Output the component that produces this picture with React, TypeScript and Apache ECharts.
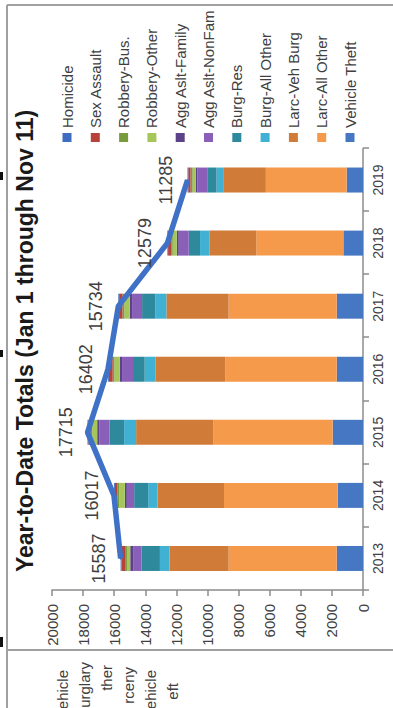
import React, { useEffect, useRef } from "react";
import * as echarts from "echarts";

const years = ["2013", "2014", "2015", "2016", "2017", "2018", "2019"];
const totals = [15587, 16017, 17715, 16402, 15734, 12579, 11285];

const homicide = [57, 59, 61, 55, 51, 45, 48];
const sexAssault = [230, 170, 130, 250, 214, 214, 150];
const robberyBus = [120, 107, 110, 110, 128, 86, 128];
const robberyOther = [210, 364, 320, 342, 342, 257, 214];
const aggAsltFamily = [190, 130, 150, 150, 150, 128, 86];
const aggAsltNonFam = [530, 470, 640, 706, 642, 642, 642];
const burgRes = [1190, 900, 943, 750, 856, 728, 600];
const burgAllOther = [620, 600, 771, 685, 706, 620, 471];
const larcVehBurg = [3800, 4280, 4970, 4494, 4000, 2996, 2697];
const larcAllOther = [6950, 7310, 7670, 7170, 6955, 5600, 5200];
const vehicleTheft = [1690, 1627, 1950, 1690, 1690, 1263, 1049];

const legendNames = [
  "Homicide",
  "Sex Assault",
  "Robbery-Bus.",
  "Robbery-Other",
  "Agg Aslt-Family",
  "Agg Aslt-NonFam",
  "Burg-Res",
  "Burg-All Other",
  "Larc-Veh Burg",
  "Larc-All Other",
  "Vehicle Theft",
];

const fragmentTexts = ["ehicle", "urglary", "ther", "rceny", "ehicle", "eft"];

const W = 708;
const H = 393;

export default function App() {
  const ref = useRef<HTMLDivElement>(null);

  useEffect(() => {
    if (!ref.current) return;
    const chart = echarts.init(ref.current, undefined, { renderer: "svg" });

    const stack = [
      { name: "Vehicle Theft", data: vehicleTheft, color: "#4677c2" },
      { name: "Larc-All Other", data: larcAllOther, color: "#f5994b" },
      { name: "Larc-Veh Burg", data: larcVehBurg, color: "#d07b38" },
      { name: "Burg-All Other", data: burgAllOther, color: "#40b1d3" },
      { name: "Burg-Res", data: burgRes, color: "#2f899c" },
      { name: "Agg Aslt-NonFam", data: aggAsltNonFam, color: "#8a5fb8" },
      { name: "Agg Aslt-Family", data: aggAsltFamily, color: "#5c4389" },
      { name: "Robbery-Other", data: robberyOther, color: "#a5c75a" },
      { name: "Robbery-Bus.", data: robberyBus, color: "#7a9a3e" },
      { name: "Sex Assault", data: sexAssault, color: "#b8413a" },
      { name: "Homicide", data: homicide, color: "#3d6cc0" },
    ];

    const axisColor = "#8c8c8c";
    const textColor = "#404040";
    const font = "Liberation Sans, Arial, sans-serif";

    const barSeries = stack.map((s) => ({
      type: "bar",
      name: s.name,
      stack: "total",
      data: s.data,
      barWidth: 25,
      itemStyle: { color: s.color },
    }));

    const graphics: any[] = [
      { type: "line", shape: { x1: 703, y1: 7, x2: 703, y2: H }, style: { stroke: "#a0a0a0", lineWidth: 2 } },
      { type: "line", shape: { x1: 58, y1: 7, x2: 58, y2: H }, style: { stroke: "#a0a0a0", lineWidth: 2 } },
      { type: "line", shape: { x1: 0, y1: 7, x2: 703, y2: 7 }, style: { stroke: "#a0a0a0", lineWidth: 2 } },
      { type: "rect", shape: { x: 528, y: 0, width: 8, height: 3 }, style: { fill: "#111" } },
      { type: "rect", shape: { x: 351, y: 0, width: 7, height: 3 }, style: { fill: "#111" } },
      { type: "rect", shape: { x: 61, y: 0, width: 10, height: 3 }, style: { fill: "#111" } },
      {
        type: "text",
        x: 367,
        y: 13,
        style: {
          text: "Year-to-Date Totals (Jan 1 through Nov 11)",
          fontSize: 23,
          fontWeight: "bold",
          fontFamily: font,
          fill: "#1a1a1a",
          textAlign: "center",
          textVerticalAlign: "top",
        },
      },
    ];
    const fragRight = [38, 46, 43, 41, 38, 25];
    fragmentTexts.forEach((t, i) => {
      graphics.push({
        type: "text",
        x: fragRight[i],
        y: 62 + i * 22,
        style: {
          text: t,
          fontSize: 15,
          fontFamily: font,
          fill: textColor,
          textAlign: "right",
          textVerticalAlign: "middle",
        },
      });
    });

    chart.setOption({
      animation: false,
      backgroundColor: "#ffffff",
      textStyle: { fontFamily: font },
      grid: { left: 118, right: 148.5, top: 52, bottom: 30, containLabel: false },
      legend: {
        data: legendNames,
        orient: "vertical",
        left: 561,
        top: 54,
        icon: "rect",
        itemWidth: 9,
        itemHeight: 9,
        itemGap: 12.3,
        textStyle: { fontSize: 15, color: textColor, lineHeight: 16, fontFamily: font },
      },
      xAxis: {
        type: "category",
        data: years,
        boundaryGap: true,
        axisLine: { lineStyle: { color: axisColor, width: 1.5 } },
        axisTick: { show: true, length: 6, lineStyle: { color: axisColor, width: 1.5 } },
        axisLabel: { fontSize: 14, color: textColor, margin: 8, fontFamily: font },
      },
      yAxis: {
        type: "value",
        min: 0,
        max: 20000,
        interval: 2000,
        splitLine: { show: false },
        axisLine: { show: true, lineStyle: { color: axisColor, width: 1.5 } },
        axisTick: { show: true, length: 6, lineStyle: { color: axisColor, width: 1.5 } },
        axisLabel: {
          fontSize: 15,
          color: textColor,
          margin: 14,
          fontFamily: font,
          formatter: (v: number) => String(v),
        },
      },
      series: [
        ...barSeries,
        {
          type: "line",
          name: "Total",
          data: totals,
          symbol: "circle",
          symbolSize: 2,
          showSymbol: true,
          z: 10,
          lineStyle: { color: "#3f72c6", width: 5.5 },
          itemStyle: { color: "#3f72c6" },
          label: {
            show: true,
            position: "top",
            distance: 12,
            fontSize: 18,
            color: textColor,
            fontFamily: font,
            formatter: (p: any) => String(p.value),
          },
          labelLayout: { hideOverlap: false },
        },
      ],
      graphic: graphics,
    });

    return () => chart.dispose();
  }, []);

  return (
    <div
      style={{
        position: "fixed",
        left: 0,
        top: 0,
        width: H,
        height: W,
        overflow: "hidden",
        background: "#fff",
      }}
    >
      <div
        ref={ref}
        style={{
          position: "absolute",
          left: 0,
          top: 0,
          width: W,
          height: H,
          transformOrigin: "0 0",
          transform: `translateY(${W}px) rotate(-90deg)`,
        }}
      />
    </div>
  );
}
